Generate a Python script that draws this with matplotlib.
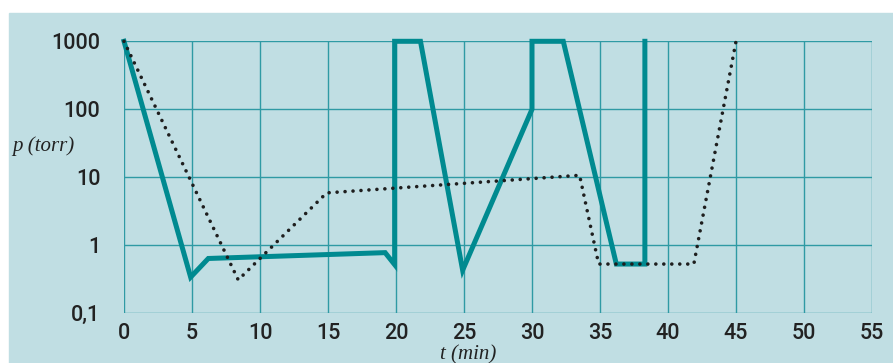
import matplotlib.pyplot as plt
from matplotlib.patches import Rectangle
from matplotlib.ticker import FixedLocator, NullLocator

# Данные
t_solid = [0, 4.9, 6.2, 19.2, 19.9, 19.9, 21.8, 24.9, 30.0, 30.0, 32.3, 36.2, 38.3, 38.3]
p_solid = [1000, 0.34, 0.64, 0.78, 0.52, 1000, 1000, 0.43, 100, 1000, 1000, 0.53, 0.53, 1000]

t_dot = [0, 8.4, 14.9, 33.5, 34.9, 41.9, 45.0]
p_dot = [1000, 0.31, 5.9, 10.7, 0.53, 0.53, 1000]

x_ticks = [0, 5, 10, 15, 20, 25, 30, 35, 40, 45, 50, 55]
y_ticks = [0.1, 1, 10, 100, 1000]
y_labels = ['0,1', '1', '10', '100', '1000']

bg = '#c0dee3'
teal = '#008a90'
grid_c = '#2f9aa4'

fig = plt.figure(figsize=(8.93, 3.63), dpi=100)
fig.patches.append(Rectangle((9 / 893, 0), 1, (363 - 13) / 363,
                             transform=fig.transFigure, color=bg, zorder=-10))

ax = fig.add_axes([124 / 893, 49.7 / 363, 748 / 893, 272 / 363])
ax.set_facecolor(bg)
ax.set_yscale('log')
ax.set_xlim(0, 55)
ax.set_ylim(0.1, 1000)

for x in x_ticks:
    ax.axvline(x, color=grid_c, lw=1, zorder=1)
for y in y_ticks:
    ax.axhline(y, color=grid_c, lw=1, zorder=1)
for s in ax.spines.values():
    s.set_visible(False)

ax.plot(t_solid, p_solid, color=teal, lw=3.6, solid_joinstyle='miter',
        clip_on=False, zorder=3)
ax.plot(t_dot, p_dot, color='#1e1e1e', lw=2.6, linestyle=(0, (0.01, 2.2)),
        dash_capstyle='round', clip_on=False, zorder=4)

ax.xaxis.set_major_locator(FixedLocator(x_ticks))
ax.yaxis.set_major_locator(FixedLocator(y_ticks))
ax.yaxis.set_minor_locator(NullLocator())
ax.set_xticklabels([str(x) for x in x_ticks])
ax.set_yticklabels(y_labels)
ax.tick_params(length=0, labelsize=15.5, labelcolor='#222222', pad=7)
for lab in ax.get_xticklabels() + ax.get_yticklabels():
    lab.set_fontfamily('Roboto')
    lab.set_fontweight('medium')
ax.tick_params(axis='y', pad=17)

fig.text(12 / 893, 1 - 146 / 363, 'p (torr)', fontsize=15, style='italic',
         family='Liberation Serif', color='#222222', va='center', ha='left')
fig.text(468 / 893, 1 - 355 / 363, 't (min)', fontsize=15, style='italic',
         family='Liberation Serif', color='#222222', va='center', ha='center')

fig.savefig('out.png', dpi=100)
